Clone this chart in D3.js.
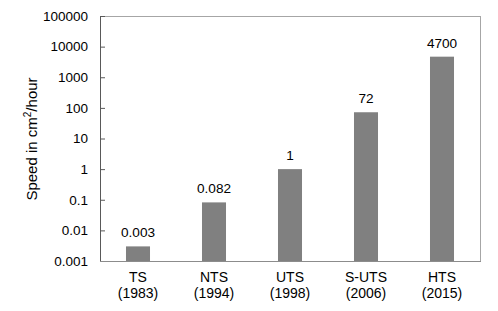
<!DOCTYPE html>
<html><head><meta charset="utf-8">
<script src="https://cdn.jsdelivr.net/npm/d3@7"></script>
<style>body{margin:0;background:#fff}svg{display:block;font-family:"Liberation Sans",Arial,sans-serif}</style>
</head><body><svg id="c" width="498" height="311"></svg>
<script>
const categories = ["TS", "NTS", "UTS", "S-UTS", "HTS"];
const years = ["(1983)", "(1994)", "(1998)", "(2006)", "(2015)"];
const values = [0.003, 0.082, 1, 72, 4700];
const valueLabels = ["0.003", "0.082", "1", "72", "4700"];
const yTicks = [0.001, 0.01, 0.1, 1, 10, 100, 1000, 10000, 100000];
const yTickLabels = ["0.001", "0.01", "0.1", "1", "10", "100", "1000", "10000", "100000"];

const svg = d3.select("#c");
const m = {l: 100, t: 16, r: 480, b: 261};
const x = d3.scaleBand().domain(categories).range([m.l, m.r]).paddingInner(0.684).paddingOuter(0.342);
const y = d3.scaleLog().domain([0.001, 100000]).range([m.b, m.t]);

// frame
svg.append("rect").attr("x", m.l + 0.5).attr("y", m.t + 0.5).attr("width", m.r - m.l).attr("height", m.b - m.t)
  .attr("fill", "none").attr("stroke", "#a6a6a6").attr("stroke-width", 1);

// bars
svg.selectAll("rect.bar").data(values).enter().append("rect").attr("class", "bar")
  .attr("x", (d, i) => x(categories[i])).attr("width", x.bandwidth())
  .attr("y", d => y(d)).attr("height", d => m.b - y(d)).attr("fill", "#808080");

// value labels
svg.selectAll("text.val").data(values).enter().append("text").attr("class", "val")
  .attr("x", (d, i) => x(categories[i]) + x.bandwidth() / 2).attr("y", d => y(d) - 9)
  .attr("text-anchor", "middle").attr("font-size", 13.6).attr("fill", "#000")
  .text((d, i) => valueLabels[i]);

// y axis
const yAxis = d3.axisLeft(y).tickValues(yTicks).tickFormat((d, i) => yTickLabels[i]).tickSizeInner(-5).tickSizeOuter(0).tickPadding(12);
const ga = svg.append("g").attr("transform", `translate(${m.l},0)`).call(yAxis);
ga.select(".domain").attr("stroke", "#595959");
ga.selectAll(".tick line").attr("stroke", "#595959");
ga.selectAll(".tick text").attr("font-size", 13.5).attr("fill", "#000").attr("font-family", "Liberation Sans, Arial, sans-serif");

// bottom axis line
svg.append("line").attr("x1", m.l).attr("x2", m.r + 1).attr("y1", m.b + 0.5).attr("y2", m.b + 0.5).attr("stroke", "#8c8c8c");

// x labels
const xl = svg.selectAll("text.cat").data(categories).enter().append("text").attr("class", "cat")
  .attr("x", d => x(d) + x.bandwidth() / 2).attr("text-anchor", "middle").attr("font-size", 14).attr("fill", "#000");
xl.append("tspan").attr("x", d => x(d) + x.bandwidth() / 2).attr("y", 282).text(d => d);
xl.append("tspan").attr("x", d => x(d) + x.bandwidth() / 2).attr("y", 298).text((d, i) => years[i]);

// y title
const t = svg.append("text").attr("transform", "translate(37,139) rotate(-90)").attr("text-anchor", "middle")
  .attr("font-size", 15).attr("fill", "#000");
t.append("tspan").text("Speed in cm");
t.append("tspan").attr("font-size", 10).attr("dy", -6).text("2");
t.append("tspan").attr("dy", 6).text("/hour");
</script></body></html>
